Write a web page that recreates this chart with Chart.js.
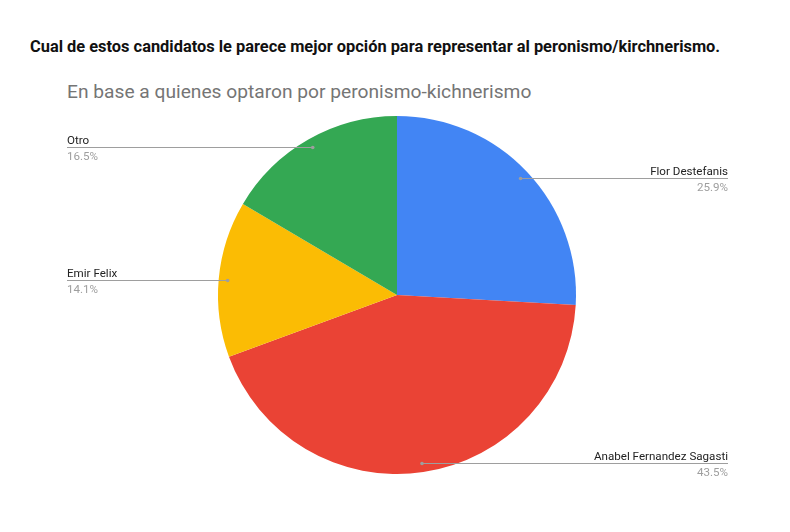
<!DOCTYPE html>
<html>
<head>
<meta charset="utf-8">
<script src="https://cdn.jsdelivr.net/npm/chart.js@4"></script>
<style>
  html, body { margin: 0; padding: 0; background: #fff; }
  #wrap { position: relative; width: 790px; height: 532px; overflow: hidden; }
  #title { position: absolute; left: 30px; top: 37px; font-family: Roboto, "Liberation Sans", sans-serif; font-weight: bold; font-size: 16.4px; color: #111; white-space: nowrap; }
  #subtitle { position: absolute; left: 67px; top: 80px; font-family: Roboto, "Liberation Sans", sans-serif; font-size: 19.2px; color: #757575; white-space: nowrap; }
  canvas { position: absolute; left: 0; top: 0; }
</style>
</head>
<body>
<div id="wrap">
  <div id="title">Cual de estos candidatos le parece mejor opción para representar al peronismo/kirchnerismo.</div>
  <div id="subtitle">En base a quienes optaron por peronismo-kichnerismo</div>
  <canvas id="c" width="790" height="532"></canvas>
</div>
<script>
const categories = ["Flor Destefanis", "Anabel Fernandez Sagasti", "Emir Felix", "Otro"];
const values = [25.9, 43.5, 14.1, 16.5];
const percentLabels = ["25.9%", "43.5%", "14.1%", "16.5%"];
const colors = ["#4285F4", "#EA4335", "#FBBC04", "#34A853"];

const leaderPlugin = {
  id: 'leaders',
  afterDatasetsDraw(chart) {
    const ctx = chart.ctx;
    const meta = chart.getDatasetMeta(0);
    meta.data.forEach((arc, i) => {
      const mid = (arc.startAngle + arc.endAngle) / 2;
      const r = arc.outerRadius * 0.95;
      const px = arc.x + Math.cos(mid) * r;
      const py = arc.y + Math.sin(mid) * r;
      const right = Math.cos(mid) >= 0;
      const endX = right ? 728 : 67;
      const y = Math.round(py) + 0.5;
      ctx.save();
      ctx.strokeStyle = '#9e9e9e';
      ctx.lineWidth = 1;
      ctx.beginPath();
      ctx.moveTo(px, y);
      ctx.lineTo(endX, y);
      ctx.stroke();
      ctx.fillStyle = '#9e9e9e';
      ctx.beginPath();
      ctx.arc(px, y, 1.8, 0, Math.PI * 2);
      ctx.fill();
      ctx.font = '11.6px Roboto, "Liberation Sans", sans-serif';
      ctx.textAlign = right ? 'right' : 'left';
      ctx.textBaseline = 'alphabetic';
      ctx.fillStyle = '#222222';
      ctx.fillText(categories[i], endX, y - 3.5);
      ctx.fillStyle = '#9e9e9e';
      ctx.fillText(percentLabels[i], endX, y + 12);
      ctx.restore();
    });
  }
};

new Chart(document.getElementById('c'), {
  type: 'pie',
  data: {
    labels: categories,
    datasets: [{ data: values, backgroundColor: colors, borderWidth: 0, hoverOffset: 0 }]
  },
  options: {
    responsive: false,
    animation: false,
    layout: { padding: { top: 116, bottom: 58, left: 218, right: 214 } },
    plugins: { legend: { display: false }, tooltip: { enabled: false }, title: { display: false } }
  },
  plugins: [leaderPlugin]
});
</script>
</body>
</html>
